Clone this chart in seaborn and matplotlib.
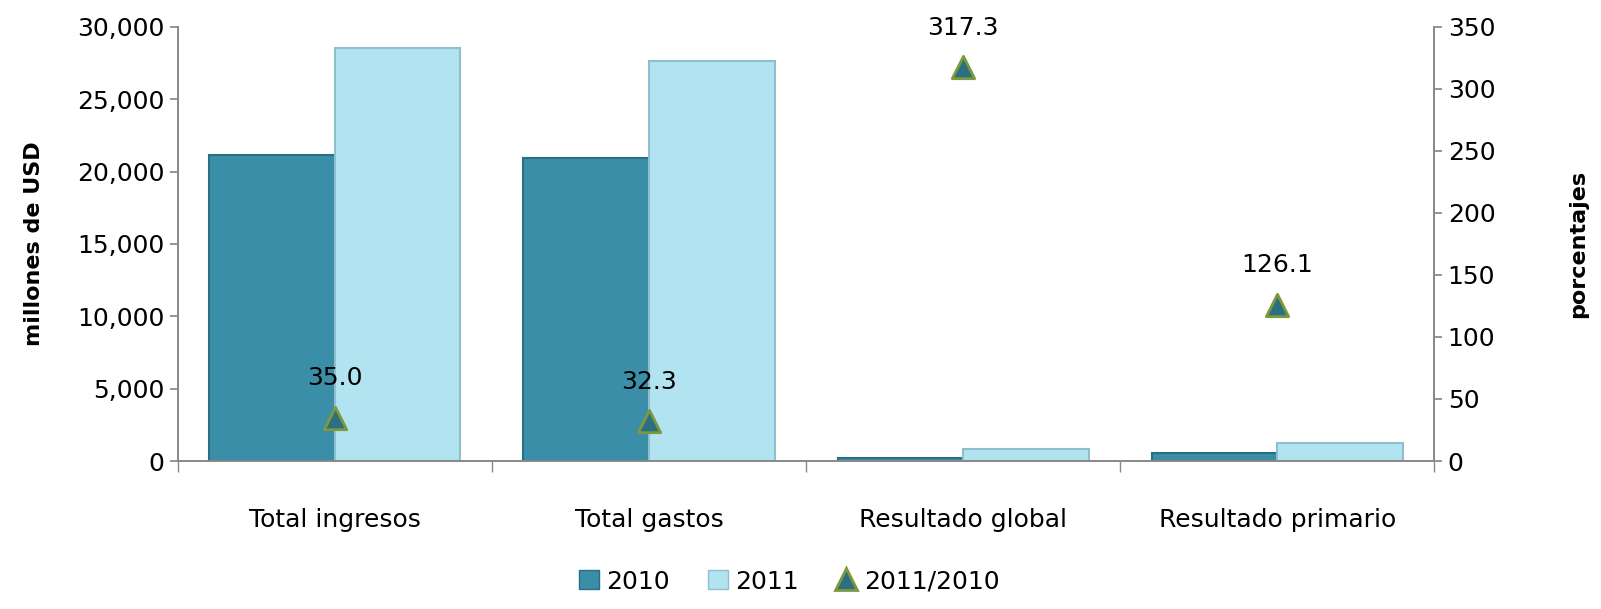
import matplotlib
matplotlib.use("Agg")
import matplotlib.pyplot as plt
import matplotlib.ticker as ticker
from matplotlib.lines import Line2D
from matplotlib.patches import Patch
import pandas as pd
import seaborn as sns

categories = ["Total ingresos", "Total gastos", "Resultado global", "Resultado primario"]
values_2010 = [21160, 20950, 200, 550]
values_2011 = [28560, 27660, 835, 1245]
growth = [35.0, 32.3, 317.3, 126.1]
years = ["2010", "2011"]

sns.set_theme(style="white")
plt.rcParams["font.family"] = ["DejaVu Sans"]
plt.rcParams["text.color"] = "black"
plt.rcParams["axes.labelcolor"] = "black"

df = pd.DataFrame({
    "categoria": categories * 2,
    "anio": [years[0]] * 4 + [years[1]] * 4,
    "valor": values_2010 + values_2011,
})

colors = {"2010": "#3A8EA8", "2011": "#B2E3F1"}
edges = {"2010": "#2A6E84", "2011": "#8FBFCD"}

fig = plt.figure(figsize=(16.01, 6.09), dpi=100)
ax = fig.add_axes([0.111, 0.243, 0.785, 0.713])

sns.barplot(
    data=df, x="categoria", y="valor", hue="anio",
    palette=colors, width=0.8, ax=ax, legend=False, saturation=1,
)
for patch, yr in zip(ax.patches, ["2010"] * 4 + ["2011"] * 4):
    patch.set_edgecolor(edges[yr])
    patch.set_linewidth(1.5)

ax.set_xlim(-0.5, 3.5)
ax.set_ylim(0, 30000)
ax.yaxis.set_major_locator(ticker.MultipleLocator(5000))
ax.yaxis.set_major_formatter(ticker.FuncFormatter(lambda v, p: f"{v:,.0f}"))
ax.set_xlabel("")
ax.set_ylabel("millones de USD", fontsize=16, fontweight="bold", labelpad=24)
ax.tick_params(axis="y", labelsize=18, length=6, color="#888888", direction="out", left=True, labelcolor="black")
ax.tick_params(axis="x", labelsize=18, length=0, pad=34, labelcolor="black")

# category boundary ticks
ax.set_xticks([-0.5, 0.5, 1.5, 2.5, 3.5], minor=True)
ax.tick_params(axis="x", which="minor", length=8, color="#888888", bottom=True)

ax2 = ax.twinx()
sns.scatterplot(
    x=list(range(len(categories))), y=growth, ax=ax2,
    marker="^", s=260, color="#2C6F82", edgecolor="#7C9A3C", linewidth=2, zorder=5,
)
for i, g in enumerate(growth):
    ax2.text(i, g + 22, f"{g:.1f}", ha="center", va="bottom", fontsize=18, color="black")
ax2.set_ylim(0, 350)
ax2.yaxis.set_major_locator(ticker.MultipleLocator(50))
ax2.set_ylabel("porcentajes", fontsize=16, fontweight="bold", labelpad=52)
ax2.tick_params(axis="y", labelsize=18, length=6, color="#888888", direction="out", right=True, labelcolor="black")

for a in (ax, ax2):
    a.spines["top"].set_visible(False)
    for s in ("left", "right", "bottom"):
        a.spines[s].set_color("#888888")
        a.spines[s].set_linewidth(1.2)

handles = [
    Patch(facecolor=colors["2010"], edgecolor=edges["2010"], label="2010"),
    Patch(facecolor=colors["2011"], edgecolor=edges["2011"], label="2011"),
    Line2D([], [], marker="^", linestyle="none", markersize=16,
           markerfacecolor="#2C6F82", markeredgecolor="#7C9A3C", markeredgewidth=2,
           label="2011/2010"),
]
fig.legend(handles=handles, loc="center", bbox_to_anchor=(0.493, 0.045), ncol=3,
           frameon=False, fontsize=18, handlelength=0.8, handleheight=0.8,
           handletextpad=0.3, columnspacing=1.5)

fig.savefig("out.png", dpi=100)
